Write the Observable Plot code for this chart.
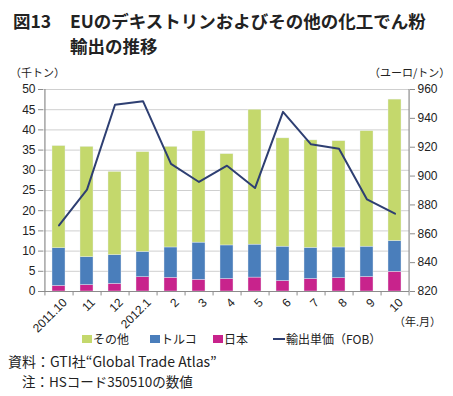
<!DOCTYPE html>
<html><head><meta charset="utf-8">
<script src="https://cdn.jsdelivr.net/npm/d3@7"></script>
<script src="https://cdn.jsdelivr.net/npm/@observablehq/plot@0.6"></script>
<style>
body{margin:0;background:#fff;}
#wrap{position:relative;width:453px;height:396px;font-family:"Noto Sans CJK JP",sans-serif;color:#222;overflow:hidden;background:#fff}
.abs{position:absolute;white-space:nowrap}
.t{font-size:17.5px;font-weight:bold;line-height:21px;height:21px}
</style></head><body>
<div id="wrap">
 <div id="chart" class="abs" style="left:0;top:60px"></div>
 <div class="abs t" style="left:13px;top:10px">図13</div>
 <div class="abs t" style="left:70px;top:10px">EUのデキストリンおよびその他の化工でん粉</div>
 <div class="abs t" style="left:70px;top:35px">輸出の推移</div>
 <div class="abs" style="left:10px;top:64px;font-size:11px">（千トン）</div>
 <div class="abs" style="left:369px;top:64px;font-size:11px">（ユーロ/トン）</div>
 <div class="abs" style="left:394px;top:313px;font-size:11px">（年.月）</div>
 <div id="legend" class="abs" style="left:0;top:330px;font-size:12px;width:453px;height:18px"></div>
 <div class="abs" style="left:8px;top:352px;font-size:14px;line-height:19px">資料：GTI社“Global Trade Atlas”</div>
 <div class="abs" style="left:22px;top:372px;font-size:13.5px;line-height:19px">注：HSコード350510の数値</div>
</div>
<script>
const months = ["2011.10","11","12","2012.1","2","3","4","5","6","7","8","9","10"];
const seriesNames = ["その他","トルコ","日本"];
const seriesColors = ["#c4d86c","#4a7ebb","#c8238c"];
const lineName = "輸出単価（FOB）";
const lineColor = "#2e3f72";
const japan  = [1.4, 1.6, 1.9, 3.55, 3.4, 2.9, 3.1, 3.45, 2.6, 3.1, 3.3, 3.6, 4.9];
const turkey = [9.3, 6.9, 7.1, 6.25, 7.5, 9.2, 8.3, 8.15, 8.5, 7.7, 7.6, 7.5, 7.6];
const others = [25.3, 27.3, 20.6, 24.7, 24.9, 27.6, 22.6, 33.4, 26.8, 26.6, 26.3, 28.6, 35.0];
const price  = [865.8, 890.6, 949.4, 951.9, 908.4, 895.9, 907.2, 891.7, 944.5, 922, 919, 883.8, 873.9];
const leftTicks = [0,5,10,15,20,25,30,35,40,45,50];
const rightTicks = [820,840,860,880,900,920,940,960];

const rMin = 820, rMax = 960, lMax = 50;
const toLeft = v => (v - rMin) * lMax / (rMax - rMin);
const toRight = d => Math.round(rMin + d * (rMax - rMin) / lMax);

const bars = [];
months.forEach((m, i) => {
  bars.push({month: m, series: "日本", value: japan[i]});
  bars.push({month: m, series: "トルコ", value: turkey[i]});
  bars.push({month: m, series: "その他", value: others[i]});
});
const lineData = months.map((m, i) => ({month: m, price: price[i]}));

const W = 453, H = 290, mL = 43, mR = 44, mT = 29, mB = 59;
const step = (W - mL - mR) / months.length;
const axisColor = "#8c8c8c";

const chart = Plot.plot({
  width: W, height: H,
  marginLeft: mL, marginRight: mR, marginTop: mT, marginBottom: mB,
  style: {fontFamily: "'Liberation Sans','Noto Sans CJK JP',sans-serif", fontSize: "12px", background: "transparent", color: "#222", overflow: "visible"},
  x: {type: "band", domain: months, paddingInner: 0.55, paddingOuter: 0.275, axis: null},
  y: {domain: [0, lMax], axis: null},
  color: {domain: seriesNames, range: seriesColors},
  marks: [
    Plot.ruleY(leftTicks.filter(d => d > 0), {stroke: "#cfcfcf", strokeWidth: 1}),
    Plot.barY(bars, {x: "month", y: "value", fill: "series", order: ["日本","トルコ","その他"], stroke: "#e8eef6", strokeWidth: 0.4}),
    Plot.line(lineData, {x: "month", y: d => toLeft(d.price), stroke: lineColor, strokeWidth: 2}),
    Plot.ruleY([0], {stroke: axisColor, strokeWidth: 1.2}),
    Plot.ruleX([months[0]], {dx: -step/2, y1: 0, y2: lMax, stroke: axisColor, strokeWidth: 1.2}),
    Plot.ruleX([months[months.length-1]], {dx: step/2, y1: 0, y2: lMax, stroke: axisColor, strokeWidth: 1.2}),
    Plot.ruleX(months, {dx: step/2, y1: 0, y2: -1.1, stroke: axisColor}),
    Plot.ruleX([months[0]], {dx: -step/2, y1: 0, y2: -1.1, stroke: axisColor}),
    Plot.axisY(leftTicks, {anchor: "left", tickSize: 5, tickPadding: 3, stroke: axisColor, fill: "#222", label: null, fontSize: 12}),
    Plot.axisY(rightTicks.map(toLeft), {anchor: "right", tickSize: 5, tickPadding: 3, stroke: axisColor, fill: "#222", label: null, tickFormat: toRight, fontSize: 12}),
    Plot.text(months, {x: d => d, y: 0, text: d => d, rotate: -45, textAnchor: "end", dx: 6, dy: 9, fontSize: 12, fill: "#222"})
  ]
});
document.getElementById("chart").appendChild(chart);

// legend
const legend = document.getElementById("legend");
const legendX = [82, 150, 213];
seriesNames.forEach((name, i) => {
  const item = document.createElement("div");
  item.className = "abs";
  item.style.left = legendX[i] + "px";
  item.style.top = "0px";
  item.innerHTML = `<span style="display:inline-block;width:10px;height:8px;background:${seriesColors[i]};margin-right:1px;vertical-align:1px"></span>${name}`;
  legend.appendChild(item);
});
const li = document.createElement("div");
li.className = "abs";
li.style.left = "273px";
li.style.top = "0px";
li.innerHTML = `<span style="display:inline-block;width:12px;height:2px;background:${lineColor};margin-right:1px;vertical-align:4px"></span>${lineName}`;
legend.appendChild(li);
</script>
</body></html>
